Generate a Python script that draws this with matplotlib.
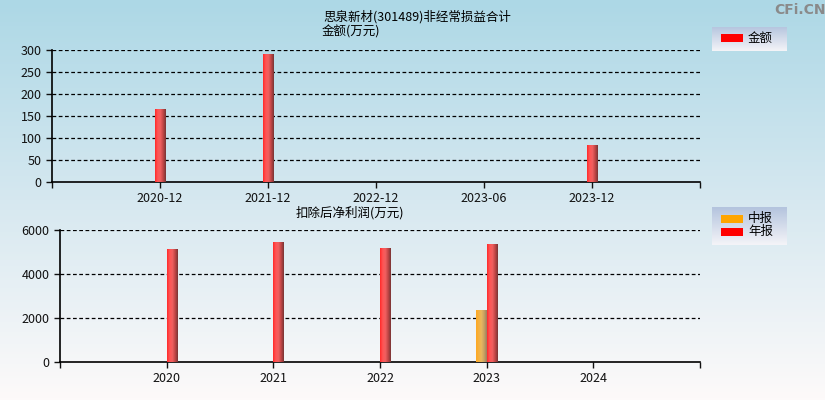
import numpy as np
import matplotlib
matplotlib.use("Agg")
from matplotlib import pyplot as plt
from matplotlib.colors import LinearSegmentedColormap
from matplotlib.patches import Rectangle

plt.rcParams['font.family'] = ['Noto Sans CJK SC', 'DejaVu Sans']

# data
top_labels = ['2020-12', '2021-12', '2022-12', '2023-06', '2023-12']
top_vals = [166, 291, np.nan, np.nan, 84]

years = ['2020', '2021', '2022', '2023', '2024']
annual = [5136, 5455, 5182, 5364, np.nan]
interim = [np.nan, np.nan, np.nan, 2364, np.nan]

red_cm = LinearSegmentedColormap.from_list('r', ['#ff2a2a', '#ff5555', '#f06060', '#c04545', '#7a3535'])
org_cm = LinearSegmentedColormap.from_list('o', ['#ffa820', '#f5b040', '#e8b860', '#c8a060', '#9a8060'])
grad = np.linspace(0, 1, 50).reshape(1, -1)


def shaded_bar(ax, x0, w, h, cm):
    # cylinder-ish bar: a gradient image clipped to the bar rectangle
    rect = Rectangle((x0, 0), w, h, facecolor='none', edgecolor='none')
    ax.add_patch(rect)
    im = ax.imshow(grad, cmap=cm, aspect='auto', extent=(x0, x0 + w, 0, h),
                   zorder=3, interpolation='bilinear')
    im.set_clip_path(rect)


def style(ax, ymax, ystep, labels):
    ax.set_facecolor('none')
    ax.set_xlim(0, 6)
    ax.set_ylim(0, ymax)
    for s in ['top', 'right']:
        ax.spines[s].set_visible(False)
    ax.spines['left'].set_linewidth(1.2)
    ax.spines['bottom'].set_linewidth(1.2)
    ax.set_xticks(range(7))
    ax.set_xticklabels([''] + labels + [''])
    ax.set_yticks(np.arange(0, ymax + 1, ystep))
    ax.tick_params(direction='out', length=4, width=1, labelsize=9, colors='#111')
    for yv in np.arange(ystep, ymax + 1, ystep):
        ax.axhline(yv, color='black', ls=(0, (3, 2)), lw=0.9, zorder=1)


fig = plt.figure(figsize=(8.25, 4.0), dpi=100)

# background gradient
bg = fig.add_axes([0, 0, 1, 1], zorder=-1)
bg_cm = LinearSegmentedColormap.from_list('bg', ['#add8e6', '#d6e8f0', '#fdfafa'])
bg.imshow(np.linspace(0, 1, 200).reshape(-1, 1), cmap=bg_cm, aspect='auto', extent=(0, 1, 0, 1))
bg.axis('off')

# top chart
ax1 = fig.add_axes([52 / 825, 1 - 182 / 400, 648 / 825, 132 / 400])
style(ax1, 300, 50, top_labels)
bw = 0.1
for i, v in enumerate(top_vals):
    if not np.isnan(v):
        shaded_bar(ax1, i + 1 - bw / 2, bw, v, red_cm)
ax1.set_xlim(0, 6)
ax1.set_ylim(0, 300)

fig.text(323 / 825, 1 - 17 / 400, '思泉新材(301489)非经常损益合计', fontsize=9, ha='left', va='center')
fig.text(322 / 825, 1 - 32 / 400, '金额(万元)', fontsize=9, ha='left', va='center')

# bottom chart
ax2 = fig.add_axes([60 / 825, 1 - 362 / 400, 640 / 825, 132 / 400])
style(ax2, 6000, 2000, years)
for i in range(len(years)):
    if not np.isnan(annual[i]):
        shaded_bar(ax2, i + 1, bw, annual[i], red_cm)
    if not np.isnan(interim[i]):
        shaded_bar(ax2, i + 1 - bw, bw, interim[i], org_cm)
ax2.set_xlim(0, 6)
ax2.set_ylim(0, 6000)

fig.text(350 / 825, 1 - 213 / 400, '扣除后净利润(万元)', fontsize=9, ha='center', va='center')

# legends drawn as small gradient boxes
leg_cm = LinearSegmentedColormap.from_list('lg', ['#b4c4de', '#f4f4f8'])


def legend_box(y_top, y_bot, entries):
    lax = fig.add_axes([712 / 825, 1 - y_bot / 400, 75 / 825, (y_bot - y_top) / 400])
    lax.imshow(np.linspace(0, 1, 50).reshape(-1, 1), cmap=leg_cm, aspect='auto',
               extent=(0, 75, y_bot - y_top, 0))
    lax.set_xlim(0, 75)
    lax.set_ylim(y_bot - y_top, 0)
    lax.axis('off')
    for k, (name, col) in enumerate(entries):
        yc = 11.5 + 13 * k
        lax.add_patch(Rectangle((9, yc - 4), 22, 8, facecolor=col, edgecolor='none'))
        lax.text(36, yc, name, fontsize=9, va='center', ha='left')


legend_box(27, 51, [('金额', '#ff0000')])
legend_box(207, 245, [('中报', '#ffa500'), ('年报', '#ff0000')])

fig.text(800 / 825, 1 - 10 / 400, 'CFi.CN', fontsize=10, fontweight='bold',
         color='#8a8a8a', ha='center', va='center', family='DejaVu Sans')

fig.savefig('out.png', dpi=100)
